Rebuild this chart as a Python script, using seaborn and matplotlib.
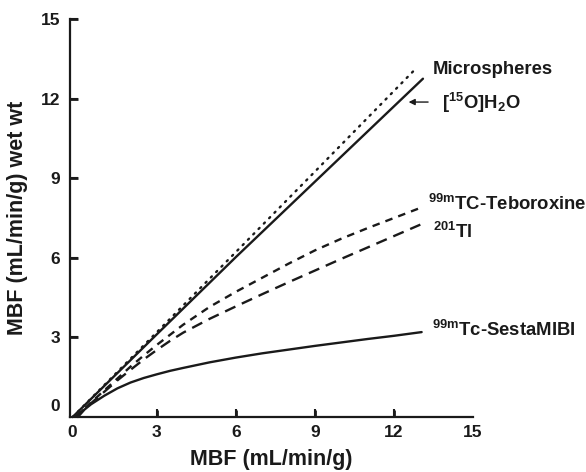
import matplotlib
matplotlib.use("Agg")
import matplotlib.pyplot as plt
import matplotlib.transforms as mtransforms
import seaborn as sns
import pandas as pd

# ---- data ----
micro_x = [-0.2, 3, 6, 9, 12.8]
micro_y = [0, 3.2, 6.22, 9.25, 13.1]

water_x = [-0.2, 3, 6, 9, 13.1]
water_y = [0, 3.12, 6.03, 8.87, 12.75]

tebo_x = [-0.1, 0.5, 1, 1.5, 2, 2.5, 3, 3.5, 4, 5, 6, 7, 8, 9, 10, 11, 12, 13.05]
tebo_y = [0, 0.55, 1.0, 1.45, 1.9, 2.32, 2.72, 3.1, 3.48, 4.15, 4.72, 5.25, 5.78, 6.28, 6.72, 7.12, 7.5, 7.9]

tl_x = [-0.1, 0.5, 1, 1.5, 2, 2.5, 3, 3.5, 4, 5, 6, 7, 8, 9, 10, 11, 12, 13.0]
tl_y = [0, 0.52, 0.95, 1.38, 1.78, 2.17, 2.53, 2.87, 3.18, 3.7, 4.17, 4.63, 5.08, 5.52, 5.96, 6.39, 6.82, 7.25]

mibi_x = [0.0, 0.25, 0.5, 1, 1.5, 2, 2.5, 3, 3.5, 4, 5, 6, 7, 8, 9, 10, 11, 12, 13.05]
mibi_y = [0, 0.28, 0.48, 0.8, 1.08, 1.3, 1.47, 1.61, 1.74, 1.85, 2.06, 2.24, 2.4, 2.54, 2.68, 2.81, 2.94, 3.06, 3.2]

xticks_marked = [3, 6, 9, 12]
xticks_plain = [0, 15]
yticks_marked = [3, 6, 9, 12, 15]
yticks_plain = [0]
xlabel = "MBF (mL/min/g)"
ylabel = "MBF (mL/min/g) wet wt"

ink = "#1a1a1a"

sns.set_theme(style="white")
plt.rcParams["font.family"] = ["Liberation Sans", "DejaVu Sans"]
plt.rcParams["font.weight"] = "bold"
plt.rcParams["mathtext.fontset"] = "custom"
plt.rcParams["mathtext.rm"] = "Liberation Sans:bold"
plt.rcParams["mathtext.bf"] = "Liberation Sans:bold"
plt.rcParams["mathtext.it"] = "Liberation Sans:bold"
plt.rcParams.update({
    "xtick.bottom": True, "ytick.left": True,
    "xtick.direction": "in", "ytick.direction": "in",
    "xtick.major.size": 5.5, "ytick.major.size": 5.5,
    "xtick.major.width": 1.5, "ytick.major.width": 1.5,
    "xtick.minor.size": 0, "ytick.minor.size": 0,
    "xtick.minor.width": 0, "ytick.minor.width": 0,
    "xtick.color": ink, "ytick.color": ink,
    "xtick.labelsize": 12.5, "ytick.labelsize": 12.5,
    "xtick.major.pad": 6, "xtick.minor.pad": 6,
    "ytick.major.pad": 7, "ytick.minor.pad": 7,
})

fig = plt.figure(figsize=(5.86, 4.72), dpi=100)
ax = fig.add_axes([70 / 586, 55 / 472, 403 / 586, 398 / 472])

lw = 1.7

def draw(xs, ys, ls):
    df = pd.DataFrame({"x": xs, "y": ys})
    sns.lineplot(data=df, x="x", y="y", ax=ax, color=ink, linewidth=lw,
                 linestyle=ls, estimator=None, sort=False)

draw(micro_x, micro_y, (0, (0.6, 2.6)))
draw(water_x, water_y, "-")
draw(tebo_x, tebo_y, (0, (3.2, 2.6)))
draw(tl_x, tl_y, (0, (4.8, 3.0)))
draw(mibi_x, mibi_y, "-")

ax.lines[0].set_dash_capstyle("round")
for l in ax.lines:
    l.set_clip_on(False)

ax.set_xlim(-0.3, 15)
ax.set_ylim(0, 15)
ax.set_xticks(xticks_marked)
ax.set_xticklabels([str(t) for t in xticks_marked])
ax.set_xticks(xticks_plain, minor=True)
ax.set_xticklabels([str(t) for t in xticks_plain], minor=True)
ax.set_yticks(yticks_marked)
ax.set_yticklabels([str(t) for t in yticks_marked])
ax.set_yticks(yticks_plain, minor=True)
ax.set_yticklabels([str(t) for t in yticks_plain], minor=True)

# inward tick marks drawn explicitly at the tick positions
tick_len_x = 7.5 / 398
tick_len_y = 7.5 / 403
ax.vlines(xticks_marked, 0, tick_len_x,
          transform=mtransforms.blended_transform_factory(ax.transData, ax.transAxes),
          colors=ink, linewidth=2.0, clip_on=False, zorder=5)
ax.hlines(yticks_marked, 0, tick_len_y,
          transform=mtransforms.blended_transform_factory(ax.transAxes, ax.transData),
          colors=ink, linewidth=2.0, clip_on=False, zorder=5)

for side in ["top", "right"]:
    ax.spines[side].set_visible(False)
for side in ["left", "bottom"]:
    ax.spines[side].set_linewidth(1.6)
    ax.spines[side].set_color(ink)

ax.set_xlabel(xlabel, fontsize=15.5, fontweight="bold", color=ink, labelpad=6)
ax.set_ylabel(ylabel, fontsize=15.5, fontweight="bold", color=ink, labelpad=9)

fs = 13.3
ax.text(13.48, 12.93, "Microspheres", fontsize=fs, fontweight="bold", color=ink, va="baseline")
ax.text(13.82, 11.6, r"[$^{\mathrm{15}}$O]H$_{\mathrm{2}}$O", fontsize=fs, fontweight="bold", color=ink, va="baseline")
ax.text(13.29, 7.8, r"$^{\mathrm{99m}}$TC-Teboroxine", fontsize=fs, fontweight="bold", color=ink, va="baseline")
ax.text(13.48, 6.75, r"$^{\mathrm{201}}$Tl", fontsize=fs, fontweight="bold", color=ink, va="baseline")
ax.text(13.44, 3.05, r"$^{\mathrm{99m}}$Tc-SestaMIBI", fontsize=fs, fontweight="bold", color=ink, va="baseline")

ax.annotate("", xy=(12.45, 11.87), xytext=(13.4, 11.87),
            arrowprops=dict(arrowstyle="-|>", color=ink, lw=1.0, mutation_scale=9),
            annotation_clip=False)

fig.canvas.draw()
# shift the zero labels like the reference
xl0 = ax.xaxis.get_minor_ticks()[0].label1
xl0.set_transform(xl0.get_transform() + mtransforms.ScaledTranslation(-6 / 100, 0, fig.dpi_scale_trans))
yl0 = ax.yaxis.get_minor_ticks()[0].label1
yl0.set_transform(yl0.get_transform() + mtransforms.ScaledTranslation(0, 12 / 100, fig.dpi_scale_trans))
for lab in (ax.get_xticklabels() + ax.get_yticklabels()
            + ax.get_xticklabels(minor=True) + ax.get_yticklabels(minor=True)):
    lab.set_fontweight("bold")

fig.savefig("out.png", dpi=100)
